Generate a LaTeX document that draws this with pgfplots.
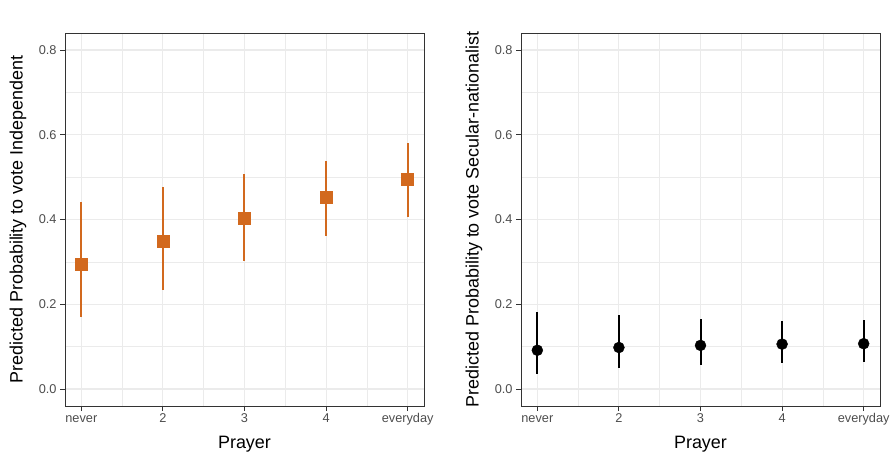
\documentclass[border=0pt]{standalone}
\usepackage{pgfplots}
\pgfplotsset{compat=1.18}
\usepackage{pgfplotstable}
\usepackage{fontspec}
\setmainfont{Liberation Sans}
\definecolor{ggorange}{HTML}{D2691E}
\definecolor{gggrid}{HTML}{EBEBEB}
\definecolor{ggframe}{HTML}{333333}
\definecolor{ggtick}{HTML}{4D4D4D}

\pgfplotstableread{
x y lo hi
1 0.2945 0.1696 0.4415
2 0.3490 0.2345 0.4770
3 0.4040 0.3010 0.5080
4 0.4530 0.3610 0.5385
5 0.4940 0.4056 0.5800
}\indep
\pgfplotstableread{
x y lo hi
1 0.0915 0.0360 0.1820
2 0.0980 0.0490 0.1740
3 0.1030 0.0570 0.1660
4 0.1060 0.0620 0.1610
5 0.1070 0.0630 0.1630
}\secnat

\pgfplotsset{ggpanel/.style={
  scale only axis, width=359bp, height=373bp,
  xmin=0.8, xmax=5.2, ymin=-0.04, ymax=0.84,
  xtick={1,2,3,4,5}, xticklabels={never,2,3,4,everyday},
  ytick={0,0.2,0.4,0.6,0.8},
  minor xtick={1.5,2.5,3.5,4.5}, minor ytick={0.1,0.3,0.5,0.7},
  grid=both,
  major grid style={gggrid, line width=1.1bp},
  minor grid style={gggrid, line width=0.55bp},
  axis line style={ggframe, line width=0.9bp},
  tick align=outside, xtick pos=left, ytick pos=left,
  major tick length=5bp, minor tick length=0bp,
  every tick/.style={ggframe, line width=0.9bp},
  tick label style={font=\fontsize{12.8}{14}\selectfont, text=ggtick},
  x tick label style={text height=9bp, text depth=3bp, inner sep=2bp},
  /pgf/number format/assume math mode=true,
  y tick label style={/pgf/number format/fixed, /pgf/number format/fixed zerofill, /pgf/number format/precision=1},
  every axis x label/.style={at={(rel axis cs:0.5,0)}, anchor=center, yshift=-38bp, font=\fontsize{18}{21}\selectfont},
  every axis y label/.style={at={(rel axis cs:0,0.5)}, anchor=center, rotate=90, yshift=47bp, font=\fontsize{18}{21}\selectfont},
  xlabel={Prayer},
  error bars/y dir=both, error bars/y explicit,
  error bars/error mark=none,
}}

\begin{document}
\begin{tikzpicture}
\useasboundingbox (0,0) rectangle (895bp,459bp);
\begin{axis}[ggpanel, at={(65bp,53bp)}, anchor=south west,
  ylabel={Predicted Probability to vote Independent}]
\addplot[only marks, mark=square*, mark size=6bp, color=ggorange,
  error bars/error bar style={ggorange, line width=2bp}]
  table[x=x, y=y, y error plus expr=\thisrow{hi}-\thisrow{y}, y error minus expr=\thisrow{y}-\thisrow{lo}] {\indep};
\end{axis}
\begin{axis}[ggpanel, at={(521bp,53bp)}, anchor=south west,
  ylabel={Predicted Probability to vote Secular-nationalist}]
\addplot[only marks, mark=*, mark size=5.5bp, color=black,
  error bars/error bar style={black, line width=2bp}]
  table[x=x, y=y, y error plus expr=\thisrow{hi}-\thisrow{y}, y error minus expr=\thisrow{y}-\thisrow{lo}] {\secnat};
\end{axis}
\end{tikzpicture}
\end{document}
